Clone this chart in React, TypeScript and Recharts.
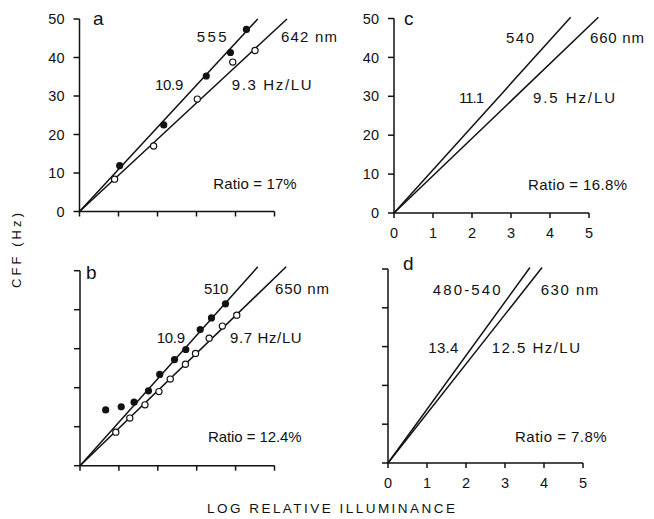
import React from "react";
import { ScatterChart, Scatter, XAxis, YAxis, ReferenceLine } from "recharts";

const xTicks = [0, 1, 2, 3, 4, 5];
const yTicks = [0, 10, 20, 30, 40, 50];

// panel a: 555 nm (filled) / 642 nm (open)
const a555 = [
  { x: 1.03, y: 11.9 },
  { x: 2.16, y: 22.5 },
  { x: 3.25, y: 35.2 },
  { x: 3.87, y: 41.3 },
  { x: 4.28, y: 47.3 },
];
const a642 = [
  { x: 0.9, y: 8.4 },
  { x: 1.9, y: 17.0 },
  { x: 3.02, y: 29.2 },
  { x: 3.93, y: 38.8 },
  { x: 4.5, y: 41.8 },
];

// panel b: 510 nm (filled) / 650 nm (open)
const b510 = [
  { x: 0.66, y: 14.3 },
  { x: 1.06, y: 15.1 },
  { x: 1.39, y: 16.3 },
  { x: 1.76, y: 19.2 },
  { x: 2.05, y: 23.4 },
  { x: 2.43, y: 27.2 },
  { x: 2.72, y: 29.8 },
  { x: 3.09, y: 34.9 },
  { x: 3.38, y: 37.9 },
  { x: 3.74, y: 41.5 },
];
const b650 = [
  { x: 0.92, y: 8.6 },
  { x: 1.28, y: 12.2 },
  { x: 1.67, y: 15.6 },
  { x: 2.03, y: 19.0 },
  { x: 2.32, y: 22.2 },
  { x: 2.71, y: 26.0 },
  { x: 2.97, y: 28.8 },
  { x: 3.32, y: 32.7 },
  { x: 3.66, y: 35.8 },
  { x: 4.03, y: 38.6 },
];

// fitted lines, from the origin to the end
const aFits = [
  [{ x: 0, y: 0 }, { x: 4.57, y: 50 }],
  [{ x: 0, y: 0 }, { x: 5.32, y: 50 }],
];
const bFits = [
  [{ x: 0, y: 0 }, { x: 4.57, y: 51 }],
  [{ x: 0, y: 0 }, { x: 5.3, y: 51 }],
];
const cFits = [
  [{ x: 0, y: 0 }, { x: 4.53, y: 50.3 }],
  [{ x: 0, y: 0 }, { x: 5.24, y: 50.3 }],
];
const dFits = [
  [{ x: 0, y: 0 }, { x: 3.64, y: 50.4 }],
  [{ x: 0, y: 0 }, { x: 3.95, y: 50.4 }],
];

const INK = "#111";

const notes = [
  { t: "a", x: 93, y: 24.5, s: 19 },
  { t: "555", x: 196.7, y: 42.3, w: 30 },
  { t: "642 nm", x: 281, y: 42.3, w: 56 },
  { t: "10.9", x: 155, y: 90, w: 28.3 },
  { t: "9.3 Hz/LU", x: 231.7, y: 90, w: 80 },
  { t: "Ratio = 17%", x: 213.3, y: 189.3, w: 83.4 },
  { t: "c", x: 404, y: 25, s: 19 },
  { t: "540", x: 506, y: 42.7, w: 28 },
  { t: "660 nm", x: 590, y: 42.7, w: 54 },
  { t: "11.1", x: 459, y: 103.3, w: 25 },
  { t: "9.5 Hz/LU", x: 533, y: 103.3, w: 82 },
  { t: "Ratio = 16.8%", x: 528, y: 190, w: 99 },
  { t: "b", x: 86, y: 279.3, s: 19 },
  { t: "510", x: 204, y: 294, w: 24.3 },
  { t: "650 nm", x: 275, y: 294, w: 54 },
  { t: "10.9", x: 156.7, y: 343.3, w: 28.3 },
  { t: "9.7 Hz/LU", x: 230, y: 343.3, w: 71.7 },
  { t: "Ratio = 12.4%", x: 208, y: 441.7, w: 93.7 },
  { t: "d", x: 403, y: 270, s: 19 },
  { t: "480-540", x: 432.7, y: 295, w: 68 },
  { t: "630 nm", x: 540.7, y: 295, w: 57.6 },
  { t: "13.4", x: 428.3, y: 353.3, w: 30 },
  { t: "12.5 Hz/LU", x: 491.7, y: 353.3, w: 88.3 },
  { t: "Ratio = 7.8%", x: 515, y: 441.7, w: 91.7 },
];

const filledDot = (p: any) => <circle cx={p.cx} cy={p.cy} r={3.6} fill={INK} />;
const openDot = (p: any) => (
  <circle cx={p.cx} cy={p.cy} r={3.1} fill="#fff" stroke={INK} strokeWidth={1.2} />
);
const noDot = () => <g />;
const blank = () => "";

type Pt = { x: number; y: number };

type PanelProps = {
  left: number;
  top: number;
  width: number;
  height: number;
  plot: { l: number; t: number; r: number; b: number };
  filled?: Pt[];
  open?: Pt[];
  fits: Pt[][];
  xLabels: boolean;
  yLabels: boolean;
};

const Panel = ({ left, top, width, height, plot, filled, open, fits, xLabels, yLabels }: PanelProps) => {
  const line = { stroke: INK, strokeWidth: 1.5 };
  return (
    <div style={{ position: "absolute", left, top }}>
      <ScatterChart
        width={width}
        height={height}
        margin={{ top: plot.t - top, right: left + width - plot.r, bottom: 0, left: 0 }}
      >
        <XAxis
          type="number"
          dataKey="x"
          domain={[0, 5]}
          ticks={xTicks}
          interval={0}
          height={top + height - plot.b}
          axisLine={line}
          tickLine={line}
          tickSize={5}
          tickMargin={10}
          tick={{ fill: INK, fontSize: 14.5 }}
          tickFormatter={xLabels ? undefined : blank}
        />
        <YAxis
          type="number"
          dataKey="y"
          domain={[0, 50]}
          ticks={yTicks}
          interval={0}
          width={plot.l - left}
          axisLine={line}
          tickLine={line}
          tickSize={6}
          tickMargin={9}
          tick={{ fill: INK, fontSize: 14.5 }}
          tickFormatter={yLabels ? undefined : blank}
        />
        {/* line origins, so panels without points still get scales */}
        <Scatter data={fits.map((s) => s[0])} shape={noDot} isAnimationActive={false} />
        {fits.map((seg, i) => (
          <ReferenceLine key={i} segment={seg} ifOverflow="visible" stroke={INK} strokeWidth={1.5} />
        ))}
        {filled && <Scatter data={filled} shape={filledDot} isAnimationActive={false} />}
        {open && <Scatter data={open} shape={openDot} isAnimationActive={false} />}
      </ScatterChart>
    </div>
  );
};

export default function App() {
  return (
    <div
      style={{
        position: "absolute",
        left: 0,
        top: 0,
        width: 654,
        height: 519,
        background: "#fff",
        fontFamily: "'Liberation Sans', Arial, Helvetica, sans-serif",
      }}
    >
      <Panel
        left={0}
        top={0}
        width={327}
        height={245}
        plot={{ l: 79.5, t: 19, r: 274.5, b: 211.5 }}
        filled={a555}
        open={a642}
        fits={aFits}
        xLabels={false}
        yLabels={true}
      />
      <Panel
        left={327}
        top={0}
        width={327}
        height={245}
        plot={{ l: 394, t: 18.5, r: 589, b: 213 }}
        fits={cFits}
        xLabels={true}
        yLabels={true}
      />
      <Panel
        left={0}
        top={245}
        width={327}
        height={274}
        plot={{ l: 80, t: 270.7, r: 274.5, b: 465.7 }}
        filled={b510}
        open={b650}
        fits={bFits}
        xLabels={false}
        yLabels={false}
      />
      <Panel
        left={327}
        top={245}
        width={327}
        height={274}
        plot={{ l: 388, t: 269, r: 583, b: 463 }}
        fits={dFits}
        xLabels={true}
        yLabels={false}
      />
      <svg
        width={654}
        height={519}
        style={{ position: "absolute", left: 0, top: 0, pointerEvents: "none" }}
      >
        {notes.map((n, i) => (
          <text
            key={i}
            x={n.x}
            y={n.y}
            fontSize={n.s ?? 15}
            fill={INK}
            textLength={n.w}
            lengthAdjust={n.w ? "spacing" : undefined}
          >
            {n.t}
          </text>
        ))}
        <text
          x={0}
          y={0}
          transform="translate(21 250.5) rotate(-90)"
          textAnchor="middle"
          fontSize={13}
          fill={INK}
          textLength={75}
          lengthAdjust="spacing"
        >
          CFF (Hz)
        </text>
        <text x={207} y={513} fontSize={13.5} fill={INK} textLength={248} lengthAdjust="spacing">
          LOG RELATIVE ILLUMINANCE
        </text>
      </svg>
    </div>
  );
}
